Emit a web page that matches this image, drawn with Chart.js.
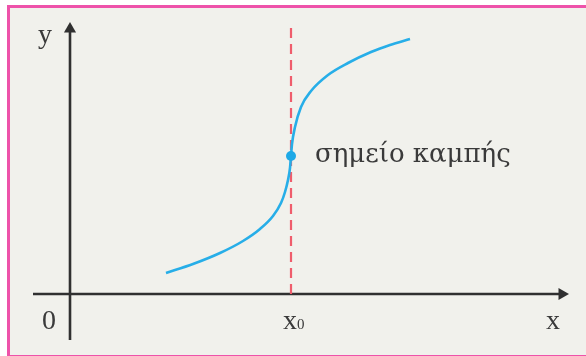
<!DOCTYPE html>
<html>
<head>
<meta charset="utf-8">
<script src="https://cdn.jsdelivr.net/npm/chart.js@4/dist/chart.umd.min.js"></script>
<style>
  html, body { margin: 0; padding: 0; background: #ffffff; }
  #frame { position: absolute; left: 7px; top: 5px; width: 579px; height: 347px;
           border-top: 3px solid #ee52aa; border-left: 3px solid #ee52aa; border-bottom: 3px solid #ee52aa;
           background: #f1f1ec; box-sizing: content-box; }
  #c { position: absolute; left: 0; top: 0; }
</style>
</head>
<body>
<div id="frame"></div>
<canvas id="c" width="586" height="356"></canvas>
<script>
// Curve (data units: pixel offsets from origin, y upward)
const curveX = [96, 123, 150, 173, 190, 203, 211, 215, 218, 220, 221, 222, 225, 231, 241, 258, 278, 301, 320, 340];
const curveY = [21, 30, 41, 53, 65, 78, 91, 102, 114, 126, 138, 150, 167, 187, 203, 219, 231, 242, 249, 255];
// Inflection point
const x0 = 221;
const inflectionY = 138;
// Dashed vertical at x0
const dashY = [0, 272];
// Axes extents
const xAxisRange = [-37, 498];
const yAxisRange = [-46, 271];
// Text labels
const labelY = 'y';
const labelX = 'x';
const labelOrigin = '0';
const labelX0 = ['x', '0'];
const labelInflection = 'σημείο καμπής';

const toPts = (xs, ys) => xs.map((x, i) => ({ x: x, y: ys[i] }));

const labelsPlugin = {
  id: 'labels',
  afterDatasetsDraw(chart) {
    const { ctx, scales: { x, y } } = chart;
    ctx.save();
    ctx.fillStyle = '#3a3a3a';
    ctx.textBaseline = 'middle';
    ctx.textAlign = 'center';
    ctx.font = '28px "Liberation Serif", serif';
    ctx.fillText(labelY, x.getPixelForValue(-25), y.getPixelForValue(258));
    ctx.fillText(labelOrigin, x.getPixelForValue(-21), y.getPixelForValue(-28));
    ctx.fillText(labelX, x.getPixelForValue(483), y.getPixelForValue(-28));
    // x0
    ctx.textAlign = 'left';
    ctx.fillText(labelX0[0], x.getPixelForValue(x0 - 8), y.getPixelForValue(-28));
    ctx.font = '15px "Liberation Serif", serif';
    ctx.fillText(labelX0[1], x.getPixelForValue(x0 + 6), y.getPixelForValue(-31));
    // inflection label
    ctx.font = '26px "DejaVu Serif", serif';
    ctx.fillText(labelInflection, x.getPixelForValue(x0 + 24), y.getPixelForValue(inflectionY + 1));
    ctx.restore();
  }
};

new Chart(document.getElementById('c'), {
  type: 'scatter',
  data: {
    datasets: [
      { // x axis
        data: [{ x: xAxisRange[0], y: 0 }, { x: xAxisRange[1] - 6, y: 0 }],
        showLine: true, borderColor: '#303030', borderWidth: 2.6,
        pointRadius: [0, 7], pointStyle: 'triangle', rotation: 90,
        pointBackgroundColor: '#303030', pointBorderWidth: 0, order: 3
      },
      { // y axis
        data: [{ x: 0, y: yAxisRange[0] }, { x: 0, y: yAxisRange[1] - 6 }],
        showLine: true, borderColor: '#303030', borderWidth: 2.6,
        pointRadius: [0, 7], pointStyle: 'triangle', rotation: 0,
        pointBackgroundColor: '#303030', pointBorderWidth: 0, order: 3
      },
      { // dashed vertical
        data: dashY.map(v => ({ x: x0, y: v })),
        showLine: true, borderColor: '#ef5d6c', borderWidth: 2.2, borderDash: [10, 6],
        pointRadius: 0, order: 2
      },
      { // curve
        data: toPts(curveX, curveY),
        showLine: true, borderColor: '#27aee8', borderWidth: 2.6,
        cubicInterpolationMode: 'monotone', pointRadius: 0, order: 1
      },
      { // inflection point
        data: [{ x: x0, y: inflectionY }],
        pointRadius: 5, pointBackgroundColor: '#1ea9e6', pointBorderWidth: 0, order: 0
      }
    ]
  },
  options: {
    responsive: false,
    animation: false,
    layout: { padding: 0, autoPadding: false },
    plugins: { legend: { display: false }, tooltip: { enabled: false } },
    scales: {
      x: { type: 'linear', min: -70, max: 516, display: false },
      y: { type: 'linear', min: -62, max: 294, display: false }
    }
  },
  plugins: [labelsPlugin]
});
</script>
</body>
</html>
